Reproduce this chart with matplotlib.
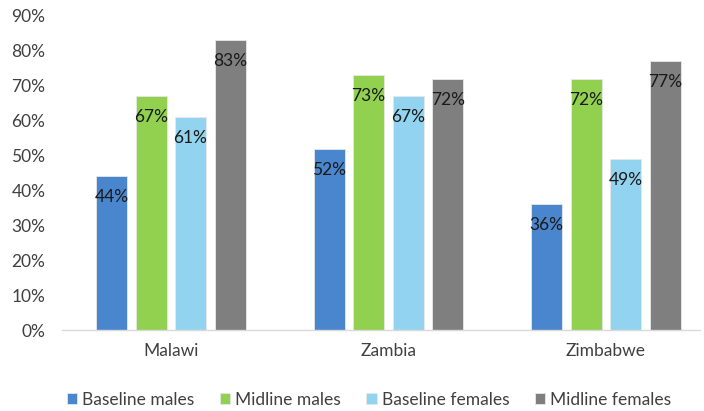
import matplotlib
matplotlib.use("Agg")
import matplotlib.pyplot as plt
import numpy as np

countries = ["Malawi", "Zambia", "Zimbabwe"]
series_names = ["Baseline males", "Midline males", "Baseline females", "Midline females"]
baseline_males = [0.44, 0.52, 0.36]
midline_males = [0.67, 0.73, 0.72]
baseline_females = [0.61, 0.67, 0.49]
midline_females = [0.83, 0.72, 0.77]
colors = ["#4A86CE", "#92D050", "#92D3EF", "#7F7F7F"]
yticks = [0, 0.1, 0.2, 0.3, 0.4, 0.5, 0.6, 0.7, 0.8, 0.9]

plt.rcParams['font.family'] = ['Lato', 'DejaVu Sans']

fig = plt.figure(figsize=(7.04, 4.11), dpi=100)
ax = fig.add_axes([62/704, 81/411, (700-62)/704, 314/411])

x = np.arange(len(countries))
width = 0.1425
step = 0.1816
all_series = [baseline_males, midline_males, baseline_females, midline_females]
for i, (vals, name, c) in enumerate(zip(all_series, series_names, colors)):
    pos = x + (i - 1.5) * step
    ax.bar(pos, vals, width=width, color=c, label=name,
           edgecolor="#E8E8E8", linewidth=0.6)
    for xp, v in zip(pos, vals):
        ax.annotate(f"{round(v*100)}%", (xp, v), xytext=(0, -21),
                    textcoords="offset pixels", ha="center", va="center",
                    fontsize=12.5, color="#1A1A1A")

ax.set_ylim(0, 0.9)
ax.set_xlim(-0.5, (700-171)/217.5)
ax.set_yticks(yticks)
ax.set_yticklabels([f"{int(round(t*100))}%" for t in yticks])
ax.set_xticks(x)
ax.set_xticklabels(countries)
ax.tick_params(axis="both", length=0, labelsize=12.5, colors="#404040")
ax.tick_params(axis="x", pad=9)
ax.tick_params(axis="y", pad=12)
for s in ["top", "right", "left"]:
    ax.spines[s].set_visible(False)
ax.spines["bottom"].set_color("#D9D9D9")
ax.spines["bottom"].set_linewidth(1)

leg = fig.legend(loc="center", bbox_to_anchor=(369/704, 1 - 400/411), ncol=4,
                 frameon=False, fontsize=12.5, handlelength=0.6, handleheight=0.6,
                 handletextpad=0.3, columnspacing=1.45)
for t in leg.get_texts():
    t.set_color("#404040")

fig.savefig("out.png", dpi=100)
